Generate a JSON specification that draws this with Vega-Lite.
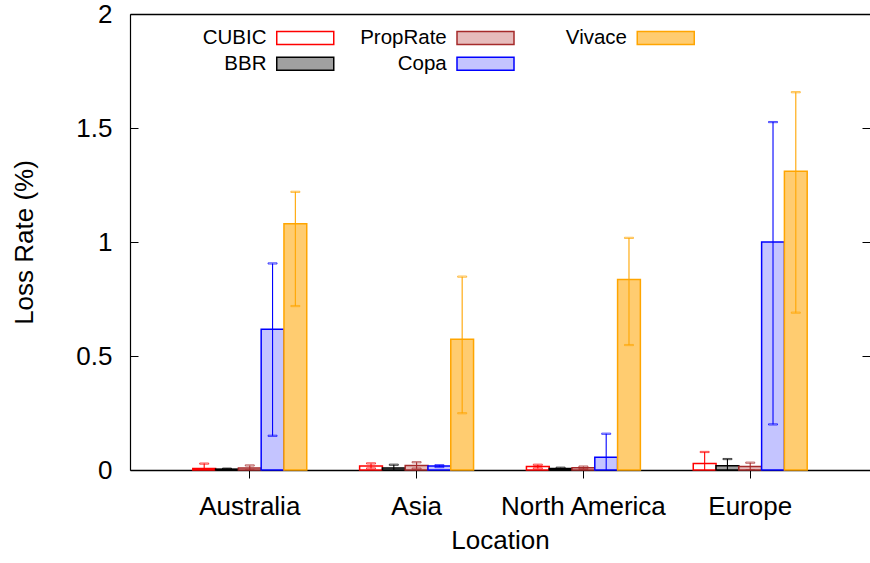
{
  "$schema": "https://vega.github.io/schema/vega-lite/v6.json",
  "width": 740,
  "height": 456,
  "autosize": {"type": "none"},
  "padding": {"left": 130, "top": 14, "right": 0, "bottom": 93},
  "background": "white",
  "config": {
    "font": "Liberation Sans",
    "view": {"stroke": null},
    "axis": {
      "labelFont": "Liberation Sans",
      "titleFont": "Liberation Sans",
      "labelFontSize": 26,
      "titleFontSize": 26,
      "titleFontWeight": "normal",
      "labelColor": "black",
      "titleColor": "black",
      "domainColor": "black",
      "tickColor": "black",
      "grid": false
    }
  },
  "data": {
    "values": [
      {"loc": "Australia", "method": "CUBIC", "rate": 0.007, "lo": -0.014, "hi": 0.028},
      {"loc": "Australia", "method": "BBR", "rate": 0.004, "lo": 0.002, "hi": 0.006},
      {"loc": "Australia", "method": "PropRate", "rate": 0.009, "lo": -0.002, "hi": 0.02},
      {"loc": "Australia", "method": "Copa", "rate": 0.617, "lo": 0.15, "hi": 0.906},
      {"loc": "Australia", "method": "Vivace", "rate": 1.08, "lo": 0.719, "hi": 1.22},
      {"loc": "Asia", "method": "CUBIC", "rate": 0.018, "lo": 0.007, "hi": 0.029},
      {"loc": "Asia", "method": "BBR", "rate": 0.009, "lo": -0.005, "hi": 0.023},
      {"loc": "Asia", "method": "PropRate", "rate": 0.02, "lo": 0.006, "hi": 0.034},
      {"loc": "Asia", "method": "Copa", "rate": 0.017, "lo": 0.013, "hi": 0.021},
      {"loc": "Asia", "method": "Vivace", "rate": 0.573, "lo": 0.249, "hi": 0.848},
      {"loc": "North America", "method": "CUBIC", "rate": 0.015, "lo": 0.007, "hi": 0.023},
      {"loc": "North America", "method": "BBR", "rate": 0.007, "lo": 0.004, "hi": 0.01},
      {"loc": "North America", "method": "PropRate", "rate": 0.01, "lo": 0.005, "hi": 0.015},
      {"loc": "North America", "method": "Copa", "rate": 0.056, "lo": -0.047, "hi": 0.159},
      {"loc": "North America", "method": "Vivace", "rate": 0.836, "lo": 0.548, "hi": 1.018},
      {"loc": "Europe", "method": "CUBIC", "rate": 0.029, "lo": -0.021, "hi": 0.079},
      {"loc": "Europe", "method": "BBR", "rate": 0.019, "lo": -0.01, "hi": 0.048},
      {"loc": "Europe", "method": "PropRate", "rate": 0.015, "lo": -0.002, "hi": 0.032},
      {"loc": "Europe", "method": "Copa", "rate": 1.0, "lo": 0.2, "hi": 1.526},
      {"loc": "Europe", "method": "Vivace", "rate": 1.31, "lo": 0.69, "hi": 1.657}
    ]
  },
  "layer": [
    {
      "mark": {"type": "bar", "strokeWidth": 1.5},
      "encoding": {
        "x": {
          "field": "loc", "type": "nominal",
          "sort": ["Australia", "Asia", "North America", "Europe"],
          "scale": {"paddingInner": 0.317, "paddingOuter": 0.3765},
          "axis": {"title": "Location", "labelAngle": 0, "tickSize": 8, "labelPadding": 15, "titlePadding": 8, "domainWidth": 1.5}
        },
        "xOffset": {
          "field": "method", "type": "nominal",
          "sort": ["CUBIC", "BBR", "PropRate", "Copa", "Vivace"],
          "scale": {"paddingInner": 0, "paddingOuter": 0}
        },
        "y": {
          "field": "rate", "type": "quantitative",
          "scale": {"domain": [0, 2], "nice": false},
          "axis": {"title": "Loss Rate (%)", "values": [0, 0.5, 1, 1.5, 2], "format": ".1~f", "tickSize": -8, "labelPadding": 26, "titlePadding": 38, "domainWidth": 1.2}
        },
        "fill": {
          "field": "method", "type": "nominal",
          "scale": {
            "domain": ["CUBIC", "BBR", "PropRate", "Copa", "Vivace"],
            "range": ["#ffffff", "#a0a0a0", "#e6bcbc", "#c4c4ff", "#ffcc70"]
          },
          "legend": {
            "title": null, "orient": "none", "legendX": 165, "legendY": 13.5, "columns": 3,
            "padding": 0, "labelFont": "Liberation Sans", "labelFontSize": 20.5, "labelColor": "black",
            "labelAlign": "right", "labelOffset": -49, "labelLimit": 0,
            "symbolType": "M-22,0M-4.385,-1H4.385V1H-4.385Z", "symbolSize": 169, "symbolStrokeWidth": 1.5,
            "columnPadding": 2.25, "rowPadding": 5
          }
        },
        "stroke": {
          "field": "method", "type": "nominal",
          "scale": {
            "domain": ["CUBIC", "BBR", "PropRate", "Copa", "Vivace"],
            "range": ["#ff0000", "#000000", "#a52a2a", "#0000ff", "#ffa500"]
          },
          "legend": {
            "title": null, "orient": "none", "legendX": 165, "legendY": 13.5, "columns": 3,
            "padding": 0, "labelFont": "Liberation Sans", "labelFontSize": 20.5, "labelColor": "black",
            "labelAlign": "right", "labelOffset": -49, "labelLimit": 0,
            "symbolType": "M-22,0M-4.385,-1H4.385V1H-4.385Z", "symbolSize": 169, "symbolStrokeWidth": 1.5,
            "columnPadding": 2.25, "rowPadding": 5
          }
        }
      }
    },
    {
      "mark": {"type": "rule", "strokeWidth": 1.1, "clip": true},
      "encoding": {
        "x": {
          "field": "loc", "type": "nominal",
          "sort": ["Australia", "Asia", "North America", "Europe"],
          "scale": {"paddingInner": 0.317, "paddingOuter": 0.3765},
          "axis": {"orient": "top", "title": null, "labels": false, "ticks": false, "domainWidth": 1.5}
        },
        "xOffset": {
          "field": "method", "type": "nominal",
          "sort": ["CUBIC", "BBR", "PropRate", "Copa", "Vivace"],
          "scale": {"paddingInner": 0, "paddingOuter": 0}
        },
        "y": {
          "field": "lo", "type": "quantitative",
          "scale": {"domain": [0, 2], "nice": false},
          "axis": {"orient": "right", "title": null, "values": [0, 0.5, 1, 1.5, 2], "labels": false, "domain": false, "tickSize": -8}
        },
        "y2": {"field": "hi"},
        "stroke": {"field": "method", "type": "nominal", "legend": null}
      }
    },
    {
      "mark": {"type": "tick", "thickness": 1.2, "size": 9, "clip": true},
      "encoding": {
        "x": {"field": "loc", "type": "nominal", "sort": ["Australia", "Asia", "North America", "Europe"], "axis": null},
        "xOffset": {"field": "method", "type": "nominal", "sort": ["CUBIC", "BBR", "PropRate", "Copa", "Vivace"]},
        "y": {"field": "hi", "type": "quantitative", "axis": null},
        "color": {"value": null},
        "stroke": {"field": "method", "type": "nominal", "legend": null}
      }
    },
    {
      "mark": {"type": "tick", "thickness": 1.2, "size": 9, "clip": true},
      "encoding": {
        "x": {"field": "loc", "type": "nominal", "sort": ["Australia", "Asia", "North America", "Europe"], "axis": null},
        "xOffset": {"field": "method", "type": "nominal", "sort": ["CUBIC", "BBR", "PropRate", "Copa", "Vivace"]},
        "y": {"field": "lo", "type": "quantitative", "axis": null},
        "color": {"value": null},
        "stroke": {"field": "method", "type": "nominal", "legend": null}
      }
    }
  ],
  "resolve": {"axis": {"x": "independent", "y": "independent"}}
}
